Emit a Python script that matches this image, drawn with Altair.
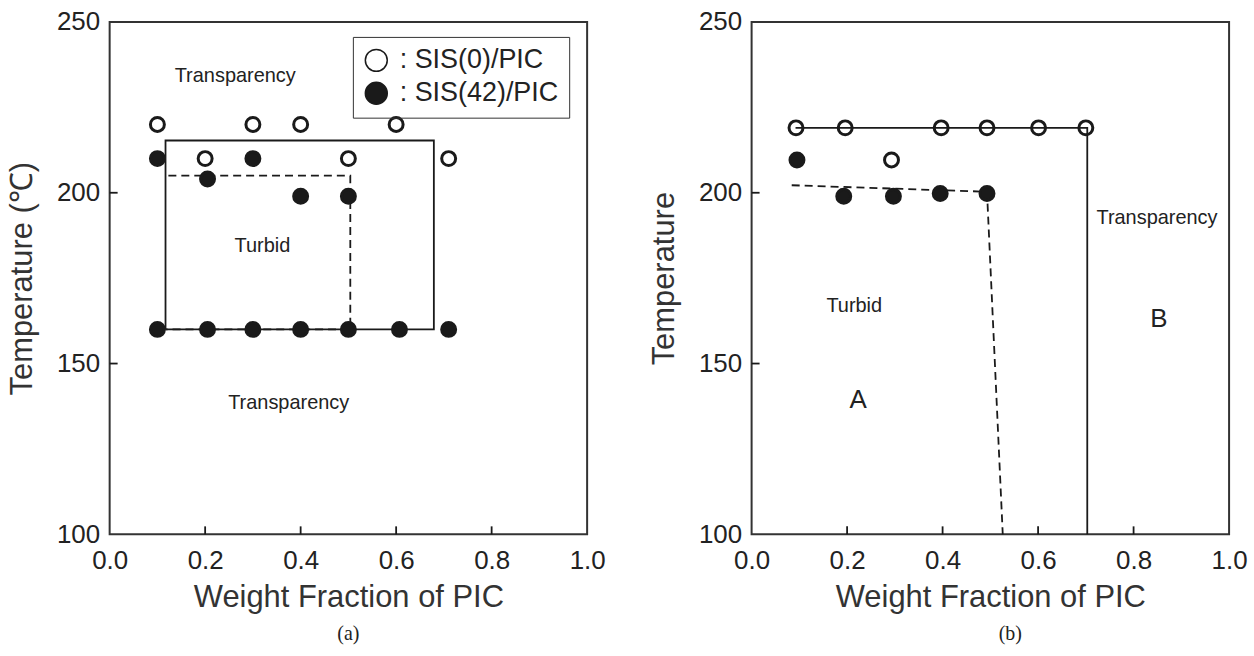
import altair as alt
import pandas as pd

# ---------------- Panel (a) data ----------------
a_open_x = [0.10, 0.20, 0.30, 0.40, 0.50, 0.60, 0.71]
a_open_y = [220, 210, 220, 220, 210, 220, 210]
a_filled_x = [0.10, 0.205, 0.30, 0.40, 0.50, 0.10, 0.205, 0.30, 0.40, 0.50, 0.607, 0.71]
a_filled_y = [210, 204, 210, 199, 199, 160, 160, 160, 160, 160, 160, 160]
a_solid_x = [0.117, 0.117, 0.679, 0.679, 0.117]
a_solid_y = [160, 215.3, 215.3, 160, 160]
a_dash_x = [0.123, 0.504, 0.504, 0.117]
a_dash_y = [205, 205, 160, 160]
a_text = ["Transparency", "Turbid", "Transparency"]
a_text_x = [0.263, 0.32, 0.375]
a_text_y = [234.2, 184.3, 138.5]
series_names = ["SIS(0)/PIC", "SIS(42)/PIC"]

# ---------------- Panel (b) data ----------------
b_open_x = [0.093, 0.196, 0.397, 0.493, 0.601, 0.700, 0.293]
b_open_y = [219, 219, 219, 219, 219, 219, 209.6]
b_filled_x = [0.095, 0.193, 0.297, 0.395, 0.493]
b_filled_y = [209.6, 199, 199, 199.8, 199.8]
b_solid_x = [0.092, 0.703, 0.703]
b_solid_y = [219, 219, 100]
b_dash_x = [0.084, 0.493, 0.526]
b_dash_y = [202.2, 200.3, 100]
b_text = ["Transparency", "Turbid"]
b_text_x = [0.849, 0.215]
b_text_y = [192.5, 166.9]
b_big_text = ["A", "B"]
b_big_x = [0.223, 0.853]
b_big_y = [139.3, 162.9]

# ---------------- axis values ----------------
x_labels = [0.0, 0.2, 0.4, 0.6, 0.8, 1.0]
y_labels = [100, 150, 200, 250]
x_ticks = [0.2, 0.4, 0.6, 0.8]
y_ticks = [150, 200]

W, H = 479, 514
FONT = "Liberation Sans"
INK = "#1a1a1a"


def X():
    return alt.X("x:Q", scale=alt.Scale(domain=[0, 1], nice=False, zero=False),
                 axis=alt.Axis(values=x_labels, format=".1f", title="Weight Fraction of PIC",
                               ticks=False, domain=False, grid=False, labelPadding=13,
                               titlePadding=9, labelFlush=False, labelOverlap=False))


def Y(title):
    return alt.Y("y:Q", scale=alt.Scale(domain=[100, 250], nice=False, zero=False),
                 axis=alt.Axis(values=y_labels, format="d", title=title,
                               ticks=False, domain=False, grid=False, labelPadding=10,
                               titlePadding=18, labelFlush=False, labelOverlap=False))


def line_layer(xs, ys, title, dash=None):
    df = pd.DataFrame({"x": xs, "y": ys, "i": list(range(len(xs)))})
    kw = dict(color=INK, strokeWidth=1.8)
    if dash:
        kw["strokeDash"] = dash
    return alt.Chart(df).mark_line(**kw).encode(x=X(), y=Y(title), order="i:Q")


def tick_layers(title):
    ydf = pd.DataFrame({"y": y_ticks})
    xdf = pd.DataFrame({"x": x_ticks})
    yt = alt.Chart(ydf).mark_rule(color=INK, strokeWidth=1.8).encode(
        y=Y(title), x=alt.value(0), x2=alt.value(8))
    xt = alt.Chart(xdf).mark_rule(color=INK, strokeWidth=1.8).encode(
        x=X(), y=alt.value(H), y2=alt.value(H - 8))
    return [yt, xt]


def text_layer(labels, xs, ys, title, size):
    df = pd.DataFrame({"x": xs, "y": ys, "label": labels})
    return alt.Chart(df).mark_text(font=FONT, fontSize=size, color="#222").encode(
        x=X(), y=Y(title), text="label:N")


# ---------------- Panel (a) ----------------
ta = "Temperature (\u2103)"
pts_a = pd.DataFrame({
    "x": a_open_x + a_filled_x,
    "y": a_open_y + a_filled_y,
    "series": [series_names[0]] * len(a_open_x) + [series_names[1]] * len(a_filled_x),
})
points_a = alt.Chart(pts_a).mark_point(shape="circle", filled=True, size=196, stroke=INK,
                                        strokeWidth=3, opacity=1).encode(
    x=X(), y=Y(ta),
    fill=alt.Fill("series:N",
                  scale=alt.Scale(domain=series_names, range=["transparent", INK]),
                  legend=alt.Legend(orient="none", legendX=244, legendY=15, title=None,
                                    labelExpr="': ' + datum.label",
                                    labelFont=FONT, labelFontSize=27, labelColor="#222",
                                    symbolType="circle", symbolSize=484,
                                    symbolStrokeWidth=1.5, symbolStrokeColor=INK,
                                    strokeColor="#333", padding=10, rowPadding=4,
                                    labelOffset=10)),
)

panel_a = alt.layer(
    line_layer(a_solid_x, a_solid_y, ta),
    line_layer(a_dash_x, a_dash_y, ta, dash=[8, 5]),
    *tick_layers(ta),
    text_layer(a_text, a_text_x, a_text_y, ta, 20),
    points_a,
).properties(width=W, height=H,
             title=alt.TitleParams("(a)", orient="bottom", frame="group", anchor="middle",
                                   offset=12))

# ---------------- Panel (b) ----------------
tb = "Temperature"
open_b = alt.Chart(pd.DataFrame({"x": b_open_x, "y": b_open_y})).mark_point(
    shape="circle", filled=False, size=196, stroke=INK, strokeWidth=3, opacity=1).encode(
    x=X(), y=Y(tb))
filled_b = alt.Chart(pd.DataFrame({"x": b_filled_x, "y": b_filled_y})).mark_point(
    shape="circle", filled=True, size=196, fill=INK, stroke=INK, strokeWidth=3,
    opacity=1).encode(x=X(), y=Y(tb))

panel_b = alt.layer(
    line_layer(b_solid_x, b_solid_y, tb),
    line_layer(b_dash_x, b_dash_y, tb, dash=[8, 5]),
    *tick_layers(tb),
    text_layer(b_text, b_text_x, b_text_y, tb, 20),
    text_layer(b_big_text, b_big_x, b_big_y, tb, 26),
    open_b,
    filled_b,
).properties(width=W, height=H,
             title=alt.TitleParams("(b)", orient="bottom", frame="group", anchor="middle",
                                   offset=12, dx=20))

chart = alt.hconcat(panel_a, panel_b, spacing=40).properties(
    padding={"left": 5, "top": 7, "right": 5, "bottom": 5},
    background="white",
).configure_view(stroke="#333", strokeWidth=2).configure_axis(
    labelFont=FONT, labelFontSize=26, labelColor="#222",
    titleFont=FONT, titleFontSize=31, titleFontWeight="normal", titleColor="#333",
).configure_title(font="Liberation Serif", fontSize=20, fontWeight="normal", color="#222")

chart.save("out.html", embed_options={"renderer": "svg", "actions": False})
